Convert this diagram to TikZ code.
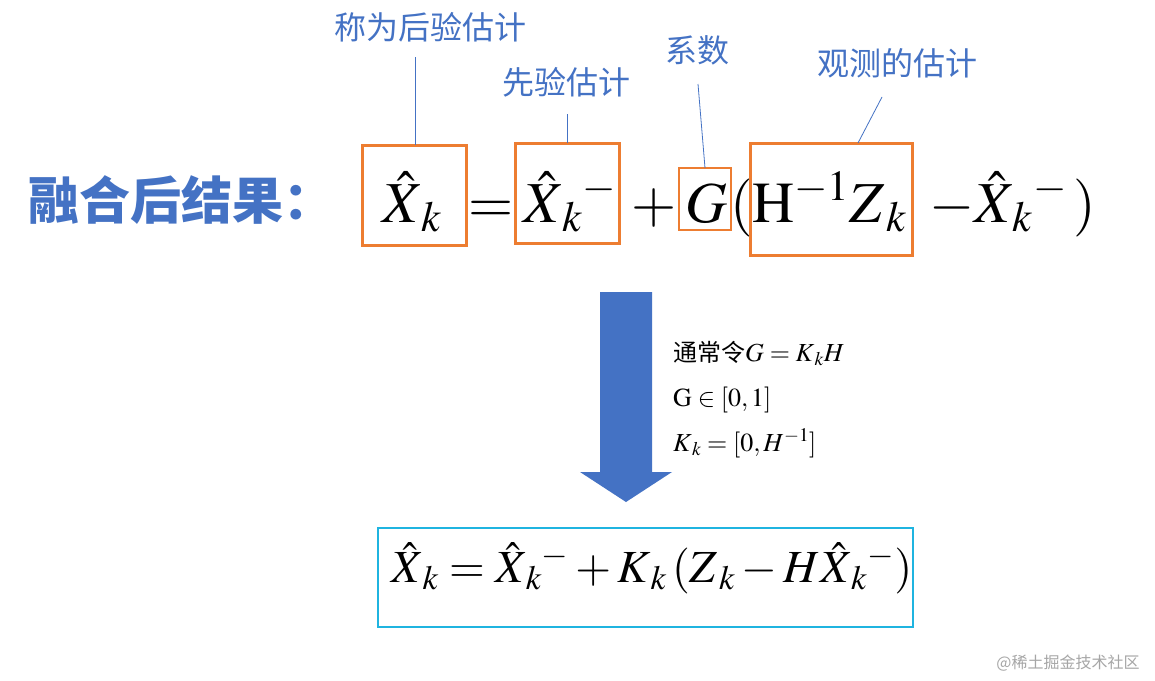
\documentclass[tikz,border=0pt]{standalone}
\usepackage{mathptmx}
\usepackage{fontspec}
\newfontfamily\cjk{Noto Sans CJK SC}
\definecolor{ublue}{HTML}{4472C4}
\definecolor{uorange}{HTML}{ED7D31}
\definecolor{ucyan}{HTML}{1FB4E0}
\begin{document}
\begin{tikzpicture}[x=1pt,y=-1pt,
  lab/.style={text=ublue,font=\cjk\fontsize{32}{36}\selectfont,inner sep=0},
  eq/.style={font=\fontsize{58}{64}\selectfont,inner sep=0,anchor=base},
  obox/.style={draw=uorange,line width=3pt},
  lead/.style={draw=ublue,line width=0.8pt},
  note/.style={font=\fontsize{26}{30}\selectfont,anchor=base west,inner sep=0},
  beq/.style={font=\fontsize{46}{52}\selectfont,inner sep=0}]
\useasboundingbox (0,0) rectangle (1155,680);
\fill[white] (0,0) rectangle (1155,680);
% title
\node[text=ublue,font=\cjk\bfseries\fontsize{51}{56}\selectfont,anchor=west,inner sep=0] (title) at (28,200) {融合后结果：};
% equation
\node[eq] (e1) at (412,222) {$\hat{X}_{\,k}$};
\node[eq] (e2) at (491,222) {$=$};
\node[eq] (e3) at (570,222) {$\hat{X}_{\,k}{}^{-}$};
\node[eq] (e4) at (654,222) {$+$};
\node[eq] (e5) at (706,222) {$G$};
\node[eq] (e6) at (742,222) {$($};
\node[eq] (e7) at (830,222) {$\mathrm{H}^{-1}Z_{\,k}$};
\node[eq] (e8) at (998,222) {$-\hat{X}_{\,k}{}^{-}$};
\node[eq] (e9) at (1085,222) {$)$};
% boxes
\draw[obox] (362,145) rectangle (466,245);
\draw[obox] (515,143) rectangle (619,243);
\draw[uorange,line width=1.5pt] (679,168) rectangle (731,230);
\draw[obox] (750,143) rectangle (912,255);
% labels
\node[lab] (l1) at (430,27) {称为后验估计};
\node[lab] (l2) at (566,82) {先验估计};
\node[lab] (l3) at (697,50) {系数};
\node[lab] (l4) at (897,63) {观测的估计};
\coordinate (t1) at (415,145);
\coordinate (t2) at (567,143);
\coordinate (t3) at (705,168);
\coordinate (t4) at (858,143);
\draw[lead] (415,57) -- (t1);
\draw[lead] (567,114) -- (t2);
\draw[lead] (698,84) -- (t3);
\draw[lead] (882,97) -- (t4);
% arrow
\fill[ublue] (600,292) -- (652,292) -- (652,472) -- (672,472) -- (626,502) -- (580,472) -- (600,472) -- cycle;
% notes
\node[note] (n1) at (673,361) {{\cjk\fontsize{24}{28}\selectfont 通常令}$G=K_{\,k}H$};
\node[note] (n2) at (673,406) {$\mathrm{G}\in[0,1]$};
\node[note] (n3) at (673,451) {$K_{\,k}=[0,H^{-1}]$};
% bottom
\node[draw=ucyan,line width=1.2pt,minimum width=535pt,minimum height=99pt,inner sep=0] (bb) at (645.5,577.5) {};
\node[beq] (beq) at (652,568) {$\hat{X}_{\,k}=\hat{X}_{\,k}{}^{-}+K_{\,k}\,(Z_{\,k}-H\hat{X}_{\,k}{}^{-})$};
\node[text=gray!70,font=\cjk\fontsize{16}{18}\selectfont,inner sep=0] (wm) at (1068,663) {@稀土掘金技术社区};
\end{tikzpicture}
\end{document}
